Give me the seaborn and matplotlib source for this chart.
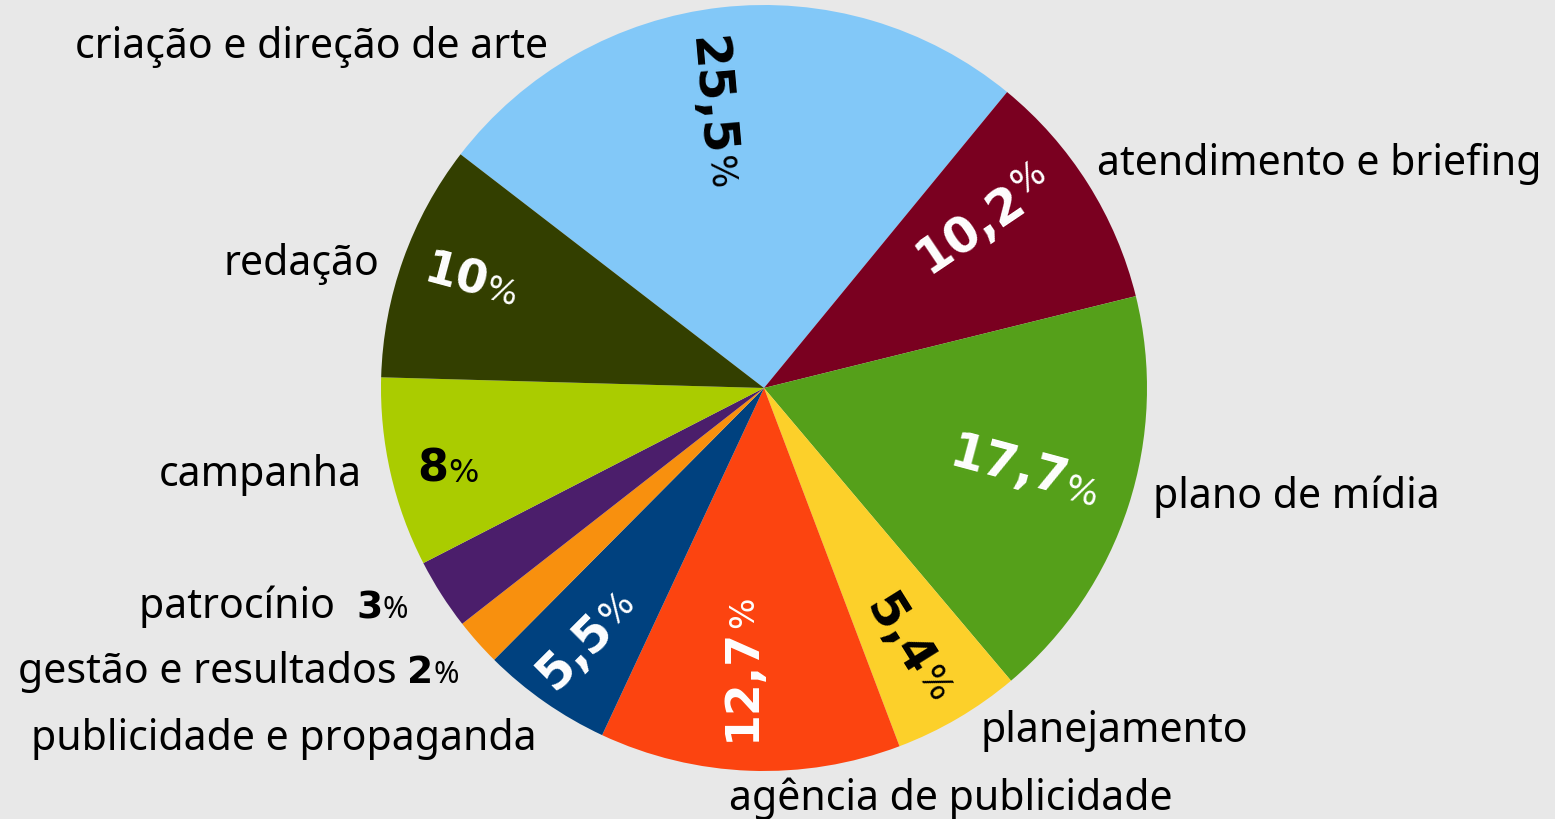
"""Pie chart: distribuição de temas (recriação)."""
import numpy as np
import matplotlib
matplotlib.use("Agg")
import matplotlib.pyplot as plt
import matplotlib.transforms as mtransforms
import seaborn as sns

# ---- data -------------------------------------------------------------
categories = ["criação e direção de arte", "atendimento e briefing", "plano de mídia",
              "planejamento", "agência de publicidade", "publicidade e propaganda",
              "gestão e resultados", "patrocínio", "campanha", "redação"]
shares = [25.5, 10.2, 17.7, 5.4, 12.7, 5.5, 2, 3, 8, 10]
share_text = ["25,5", "10,2", "17,7", "5,4", "12,7", "5,5", "2", "3", "8", "10"]
slice_colors = ["#82c8f8", "#7a0020", "#55a01a", "#fcd02a", "#fc4410",
                "#00417f", "#f8900e", "#4b1e6b", "#aacc00", "#333f00"]

# ---- layout / style ---------------------------------------------------
BG = "#e8e8e8"
LABEL_FONT = "Noto Sans"
NUM_FONT = "DejaVu Sans"
LABEL_SIZE = 29.5
CX, CY, R = 764, 388, 383          # pie centre and radius in pixels
W, H = 1555, 819

# inside percentage labels: index -> (pos in wedge, radius, rotation, size, raise pt, colour)
inside = {
    0: (0.593, 0.625, -85, 35, 5, "black"),
    1: (0.560, 0.835, 34, 35, 10, "white"),
    2: (0.470, 0.830, -15, 35, -1, "white"),
    3: (0.300, 0.850, -58, 35, 6, "black"),
    4: (0.497, 0.627, 90, 33, 1, "white"),
    5: (0.680, 0.745, 45, 35, 4, "white"),
    8: (0.628, 0.861, 0, 32, 0, "black"),
    9: (0.550, 0.769, -15, 33, 0, "white"),
}
# outer category labels: index -> (x, y, ha) in pie-radius units, y = baseline
outer = {
    0: (-0.564, 0.862, "right"),
    1: (0.869, 0.556, "left"),
    2: (1.016, -0.313, "left"),
    3: (0.564, -0.924, "left"),
    4: (-0.091, -1.102, "left"),
    5: (-0.593, -0.945, "right"),
    6: (-0.864, -0.770, "right"),   # followed by bold share
    7: (-0.995, -0.601, "right"),
    8: (-1.050, -0.256, "right"),
    9: (-1.005, 0.295, "right"),
}
with_share = {6: " ", 7: "  "}

sns.set_style("white")
plt.rcParams["font.family"] = [LABEL_FONT, "DejaVu Sans"]

fig = plt.figure(figsize=(W / 100, H / 100), dpi=100, facecolor=BG)
ax = fig.add_axes([0, 0, 1, 1])
ax.set_facecolor(BG)

palette = sns.color_palette(slice_colors)
wedges, _ = ax.pie(shares, colors=palette, startangle=142.4, counterclock=False,
                   radius=1.0, wedgeprops=dict(linewidth=0))

ax.set_xlim(-CX / R, (W - CX) / R)
ax.set_ylim(-(H - CY) / R, CY / R)
ax.set_aspect("auto")
ax.axis("off")


def share_label(x, y, num, rot, size, raise_pt, color, pct_size, font):
    ax.text(x, y, num, rotation=rot, rotation_mode="anchor", ha="right",
            va="baseline", fontsize=size, fontweight="bold", family=font,
            color=color)
    th = np.radians(rot)
    off = mtransforms.ScaledTranslation(-np.sin(th) * raise_pt / 72,
                                        np.cos(th) * raise_pt / 72,
                                        fig.dpi_scale_trans)
    ax.text(x, y, "%", rotation=rot, rotation_mode="anchor", ha="left",
            va="baseline", fontsize=pct_size, family=font, color=color,
            transform=ax.transData + off)


for i, (t, rr, rot, size, rise, col) in inside.items():
    w = wedges[i]
    ang = np.radians(w.theta1 + t * (w.theta2 - w.theta1))
    share_label(rr * np.cos(ang), rr * np.sin(ang), share_text[i], rot, size,
                rise, col, size * 0.72, NUM_FONT)

renderer = fig.canvas.get_renderer()
for i, (x, y, ha) in outer.items():
    if i in with_share:
        d = ax.text(x, y, share_text[i], ha="right", va="baseline",
                    fontsize=LABEL_SIZE * 0.92, fontweight="bold", family=NUM_FONT,
                    color="black")
        ax.text(x, y, "%", ha="left", va="baseline", fontsize=LABEL_SIZE * 0.75,
                color="black")
        bb = d.get_window_extent(renderer)
        x_left = ax.transData.inverted().transform((bb.x0, bb.y0))[0]
        ax.text(x_left, y, categories[i] + with_share[i], ha="right", va="baseline",
                fontsize=LABEL_SIZE, color="black")
    else:
        ax.text(x, y, categories[i], ha=ha, va="baseline", fontsize=LABEL_SIZE,
                color="black")

fig.savefig("out.png", dpi=100, facecolor=BG)
